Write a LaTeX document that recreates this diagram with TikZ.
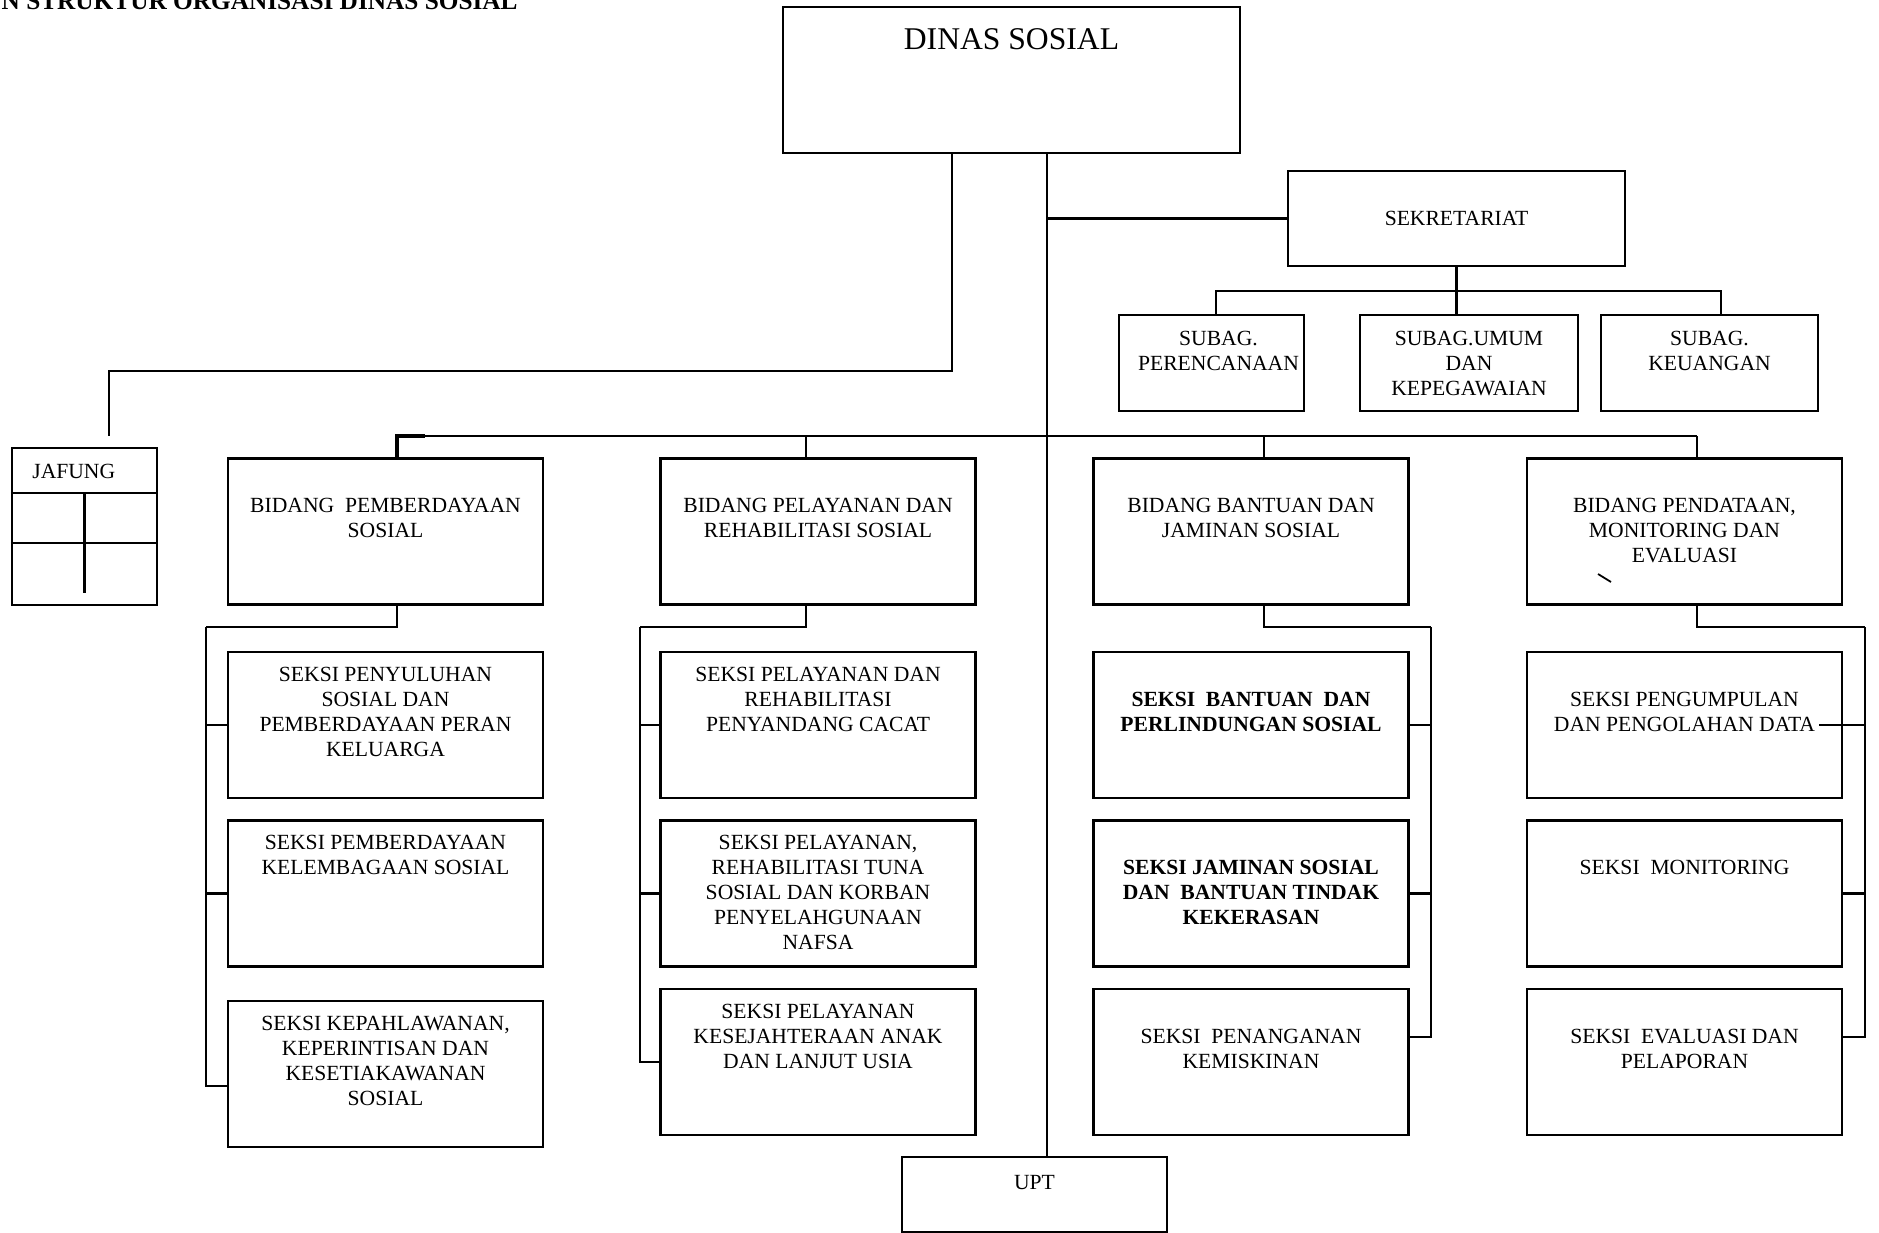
\documentclass[tikz,border=0pt]{standalone}
\usepackage{fontspec}
\setmainfont{Liberation Serif}
\usetikzlibrary{calc}
\tikzset{
  box/.style={draw, line width=1.4pt, inner sep=0pt},
  unit/.style={box, minimum width=6.3cm, minimum height=2.92cm},
  txt/.style={font=\fontsize{12.3}{14.2}\selectfont, align=center, inner sep=0pt},
  lbl/.style={txt, anchor=north},
  lblb/.style={lbl, font=\bfseries\fontsize{12.3}{14.2}\selectfont},
  link/.style={line width=1.3pt},
}
\begin{document}
\begin{tikzpicture}[x=0.02cm, y=-0.02cm]
  \useasboundingbox (0,0) rectangle (1879,1233);
  \node[anchor=base east, inner sep=0pt, font=\bfseries\fontsize{14.4}{16}\selectfont] (title) at (518,10) {N STRUKTUR ORGANISASI DINAS SOSIAL};

  \node[box, minimum width=9.14cm, minimum height=2.92cm] (dinas) at (1011.5,80) {};
  \node[lbl, font=\fontsize{18}{21}\selectfont] (dinas-t) at ([yshift=-0.45cm]dinas.north) {DINAS SOSIAL};

  \node[box, txt, minimum width=6.74cm, minimum height=1.9cm] (sekr) at (1456.5,218.5) {SEKRETARIAT};
  \node[box, minimum width=3.7cm, minimum height=1.92cm] (sub1) at (1211.5,363) {};
  \node[box, minimum width=4.36cm, minimum height=1.92cm] (sub2) at (1469,363) {};
  \node[box, minimum width=4.34cm, minimum height=1.92cm] (sub3) at (1709.5,363) {};
  \node[lbl] (sub1-t) at ([xshift=0.14cm, yshift=-0.34cm]sub1.north) {SUBAG.\\PERENCANAAN};
  \node[lbl] (sub2-t) at ([yshift=-0.34cm]sub2.north) {SUBAG.UMUM\\DAN\\KEPEGAWAIAN};
  \node[lbl] (sub3-t) at ([yshift=-0.34cm]sub3.north) {SUBAG.\\KEUANGAN};

  \node[box, minimum width=2.9cm, minimum height=3.14cm] (jafung) at (84.5,526.5) {};
  \node[txt, anchor=west] (jafung-t) at (32,471) {JAFUNG};
  \draw[line width=1.4pt] ([yshift=-0.92cm]jafung.north west) -- ([yshift=-0.92cm]jafung.north east);
  \draw[line width=1.4pt] ([yshift=-1.92cm]jafung.north west) -- ([yshift=-1.92cm]jafung.north east);
  \draw[line width=1.4pt] ([yshift=-0.92cm]jafung.north) -- ([yshift=0.26cm]jafung.south);

  \node[unit] (b1) at (385.5,531.5) {};
  \node[unit] (b2) at (818,531.5) {};
  \node[unit] (b3) at (1251,531.5) {};
  \node[unit] (b4) at (1684.5,531.5) {};
  \node[lbl] (b1-t) at ([yshift=-0.82cm]b1.north) {BIDANG\ \ PEMBERDAYAAN\\SOSIAL};
  \node[lbl] (b2-t) at ([yshift=-0.82cm]b2.north) {BIDANG PELAYANAN DAN\\REHABILITASI SOSIAL};
  \node[lbl] (b3-t) at ([yshift=-0.82cm]b3.north) {BIDANG BANTUAN DAN\\JAMINAN SOSIAL};
  \node[lbl] (b4-t) at ([yshift=-0.82cm]b4.north) {BIDANG PENDATAAN,\\MONITORING DAN\\EVALUASI};
  \draw[line width=1pt] (1598,574) -- (1611,582);

  \node[unit] (s11) at (385.5,725) {};
  \node[unit] (s12) at (385.5,893.5) {};
  \node[unit] (s13) at (385.5,1074) {};
  \node[lbl] (s11-t) at ([yshift=-0.32cm]s11.north) {SEKSI PENYULUHAN\\SOSIAL DAN\\PEMBERDAYAAN PERAN\\KELUARGA};
  \node[lbl] (s12-t) at ([yshift=-0.32cm]s12.north) {SEKSI PEMBERDAYAAN\\KELEMBAGAAN SOSIAL};
  \node[lbl] (s13-t) at ([yshift=-0.32cm]s13.north) {SEKSI KEPAHLAWANAN,\\KEPERINTISAN DAN\\KESETIAKAWANAN\\SOSIAL};

  \node[unit] (s21) at (818,725) {};
  \node[unit] (s22) at (818,893.5) {};
  \node[unit] (s23) at (818,1062) {};
  \node[lbl] (s21-t) at ([yshift=-0.32cm]s21.north) {SEKSI PELAYANAN DAN\\REHABILITASI\\PENYANDANG CACAT};
  \node[lbl] (s22-t) at ([yshift=-0.32cm]s22.north) {SEKSI PELAYANAN,\\REHABILITASI TUNA\\SOSIAL DAN KORBAN\\PENYELAHGUNAAN\\NAFSA};
  \node[lbl] (s23-t) at ([yshift=-0.32cm]s23.north) {SEKSI PELAYANAN\\KESEJAHTERAAN ANAK\\DAN LANJUT USIA};

  \node[unit] (s31) at (1251,725) {};
  \node[unit] (s32) at (1251,893.5) {};
  \node[unit] (s33) at (1251,1062) {};
  \node[lblb] (s31-t) at ([yshift=-0.82cm]s31.north) {SEKSI\ \ BANTUAN\ \ DAN\\PERLINDUNGAN SOSIAL};
  \node[lblb] (s32-t) at ([yshift=-0.82cm]s32.north) {SEKSI JAMINAN SOSIAL\\DAN\ \ BANTUAN TINDAK\\KEKERASAN};
  \node[lbl] (s33-t) at ([yshift=-0.82cm]s33.north) {SEKSI\ \ PENANGANAN\\KEMISKINAN};

  \node[unit] (s41) at (1684.5,725) {};
  \node[unit] (s42) at (1684.5,893.5) {};
  \node[unit] (s43) at (1684.5,1062) {};
  \node[lbl] (s41-t) at ([yshift=-0.82cm]s41.north) {SEKSI PENGUMPULAN\\DAN PENGOLAHAN DATA};
  \node[lbl] (s42-t) at ([yshift=-0.82cm]s42.north) {SEKSI\ \ MONITORING};
  \node[lbl] (s43-t) at ([yshift=-0.82cm]s43.north) {SEKSI\ \ EVALUASI DAN\\PELAPORAN};

  \node[box, minimum width=5.3cm, minimum height=1.5cm] (upt) at (1034.5,1194.5) {};
  \node[lbl] (upt-t) at ([yshift=-0.38cm]upt.north) {UPT};

  \coordinate (t) at (1047,218.5);
  \coordinate (jx) at (952,371);
  \coordinate (jf) at (109,436);
  \draw[link] (dinas.south -| t) -- (upt.north -| t);
  \draw[link] (t) -- (sekr.west);
  \draw[link] (dinas.south -| jx) -- (jx) -| (jf);

  \coordinate (e1) at (1216,291);
  \coordinate (e3) at (1721,291);
  \draw[link] (sekr.south) -- (sekr.south |- sub2.north);
  \draw[link] (sub1.north -| e1) -- (e1) -- (e3) -- (sub3.north -| e3);

  \coordinate (d1) at (397,436);
  \coordinate (d2) at (806,436);
  \coordinate (d3) at (1264,436);
  \coordinate (d4) at (1697,436);
  \draw[link] (d1) -- (d4);
  \draw[line width=2.4pt] (b1.north -| d1) -- (d1) -- ++(28,0);
  \foreach \i in {2,3,4}
    \draw[link] (d\i) -- (b\i.north -| d\i);

  \coordinate (c1) at (206,627);
  \coordinate (c2) at (640,627);
  \coordinate (c3) at (1431,627);
  \coordinate (c4) at (1865,627);
  \foreach \i in {1,...,4}
    \draw[link] (b\i.south -| d\i) |- (c\i);
  \draw[link] (c1) |- (s11.west);
  \draw[link] (c1) |- (s12.west);
  \draw[link] (c1) |- ($(s13.north west)!0.58!(s13.south west)$);
  \draw[link] (c2) |- (s21.west);
  \draw[link] (c2) |- (s22.west);
  \draw[link] (c2) |- (s23.west);
  \draw[link] (c3) |- (s31.east);
  \draw[link] (c3) |- (s32.east);
  \draw[link] (c3) |- ($(s33.north east)!0.33!(s33.south east)$);
  \coordinate (s41-end) at ([xshift=0.08cm]s41-t.east);
  \draw[link] (c4) |- (s41-end |- s41.east);
  \draw[link] (c4) |- (s42.east);
  \draw[link] (c4) |- ($(s43.north east)!0.33!(s43.south east)$);
\end{tikzpicture}
\end{document}
